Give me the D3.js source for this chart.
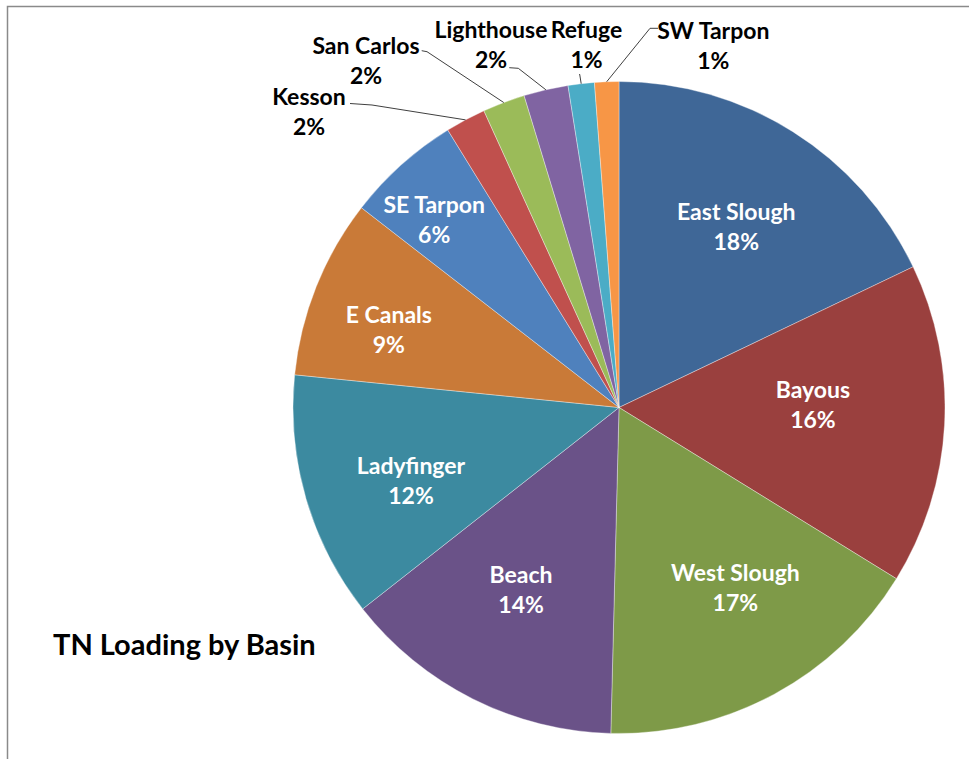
<!DOCTYPE html>
<html>
<head>
<meta charset="utf-8">
<script src="https://cdn.jsdelivr.net/npm/d3@7"></script>
<style>
  html, body { margin: 0; padding: 0; background: #fff; }
  svg { display: block; }
  text { font-family: Lato, "Open Sans", sans-serif; font-weight: bold; }
</style>
</head>
<body>
<svg id="chart" width="969" height="759"></svg>
<script>
// ---- data ----
const categories = ["East Slough", "Bayous", "West Slough", "Beach", "Ladyfinger", "E Canals",
  "SE Tarpon", "Kesson", "San Carlos", "Lighthouse", "Refuge", "SW Tarpon"];
const values = [17.9, 15.9, 16.6, 14.0, 12.2, 8.9, 5.7, 2.0, 2.1, 2.2, 1.3, 1.2];
const colors = ["#3F6797", "#9A403E", "#7E9A48", "#6A5288", "#3C8AA0", "#C97A38",
  "#4F81BD", "#C0504D", "#9BBB59", "#8064A2", "#4BACC6", "#F79646"];
const title = "TN Loading by Basin";

// ---- layout (not data) ----
const W = 969, H = 759;
const cx = 619, cy = 407.5, R = 326;
const labelSize = "23px";
// inside labels: radial fraction and small angular nudge (degrees)
const insideLayout = [
  {r: 0.66, da: 0.8}, {r: 0.595, da: -3.8}, {r: 0.66, da: -4.3}, {r: 0.635, da: 1.6},
  {r: 0.677, da: -3.3}, {r: 0.745, da: -3.2}, {r: 0.807, da: -2.7}
];
// outside callouts: label block centre and leader start / elbow
const calloutLayout = {
  "Kesson":     {lx: 309,   ly: 112,  p0: [350, 103.5], p1: [372, 105]},
  "San Carlos": {lx: 366,   ly: 61.3, p0: [421.7, 50.7], p1: [427, 51.7]},
  "Lighthouse": {lx: 491,   ly: 44.7, p0: [509.3, 67.7], p1: [518.3, 68.3]},
  "Refuge":     {lx: 586.5, ly: 44.7, p0: [579.5, 74], p1: [579.8, 75]},
  "SW Tarpon":  {lx: 713.3, ly: 45.5, p0: [658, 28.3], p1: [650, 28.3]}
};

const svg = d3.select("#chart");

// frame
svg.append("path")
  .attr("d", `M7.5,${H} L7.5,6.5 L${W},6.5`)
  .attr("fill", "none").attr("stroke", "#8a8a8a").attr("stroke-width", 1.5);

const total = d3.sum(values);
const pieData = d3.pie().value(d => d).sort(null)(values);
const arc = d3.arc().innerRadius(0).outerRadius(R);
const edgeArc = d3.arc().innerRadius(R).outerRadius(R);

const g = svg.append("g").attr("transform", `translate(${cx},${cy})`);

g.selectAll("path.slice").data(pieData).join("path")
  .attr("class", "slice")
  .attr("d", arc)
  .attr("fill", (d, i) => colors[i])
  .attr("stroke", "#ffffff").attr("stroke-width", 0.6).attr("stroke-opacity", 0.6);

const pct = v => Math.round(v / total * 100) + "%";

// inside labels
pieData.forEach((d, i) => {
  if (i >= insideLayout.length) return;
  const L = insideLayout[i];
  const a = (d.startAngle + d.endAngle) / 2 + L.da * Math.PI / 180;
  const rr = L.r * R;
  const x = rr * Math.sin(a), y = -rr * Math.cos(a);
  const t = g.append("text").attr("text-anchor", "middle").attr("fill", "#ffffff")
    .style("font-size", labelSize);
  t.append("tspan").attr("x", x).attr("y", y - 7).text(categories[i]);
  t.append("tspan").attr("x", x).attr("y", y + 23).text(pct(values[i]));
});

// outside callouts
pieData.forEach((d, i) => {
  const c = calloutLayout[categories[i]];
  if (!c) return;
  const e = edgeArc.centroid(d);
  const end = [cx + e[0], cy + e[1]];
  svg.append("polyline")
    .attr("points", [c.p0, c.p1, end].map(p => p.join(",")).join(" "))
    .attr("fill", "none").attr("stroke", "#404040").attr("stroke-width", 1);
  const t = svg.append("text").attr("text-anchor", "middle").attr("fill", "#000")
    .style("font-size", labelSize);
  t.append("tspan").attr("x", c.lx).attr("y", c.ly - 7).text(categories[i]);
  t.append("tspan").attr("x", c.lx).attr("y", c.ly + 23).text(pct(values[i]));
});

// title
svg.append("text").attr("x", 53).attr("y", 655).attr("fill", "#000")
  .style("font-size", "29px").text(title);
</script>
</body>
</html>
